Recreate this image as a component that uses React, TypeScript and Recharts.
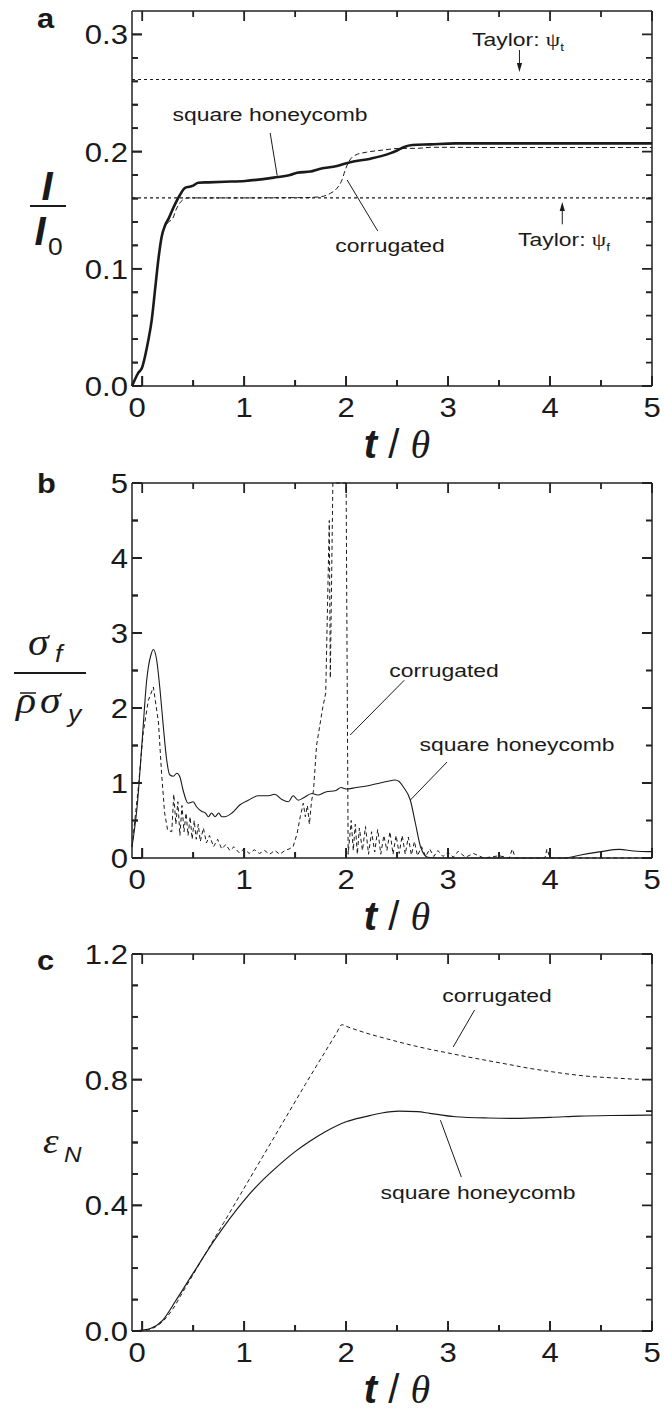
import React from 'react';
import { LineChart, Line, XAxis, YAxis, ReferenceLine } from 'recharts';

// ---------- shared axis data ----------
const T_DOMAIN: [number, number] = [-0.1, 5];
const X_TICKS = [0, 0.5, 1, 1.5, 2, 2.5, 3, 3.5, 4, 4.5, 5];
const X_MAJOR = [0, 1, 2, 3, 4, 5];

// ---------- panel a : I / I0 ----------
const A_Y_DOMAIN: [number, number] = [0, 0.32];
const A_Y_TICKS = [0, 0.02, 0.04, 0.06, 0.08, 0.1, 0.12, 0.14, 0.16, 0.18, 0.2, 0.22, 0.24, 0.26, 0.28, 0.3];
const A_Y_MAJOR = [0, 0.1, 0.2, 0.3];
const A_TAYLOR_T = 0.2615;
const A_TAYLOR_F = 0.1605;
const A_HONEY_T = [-0.1, -0.04, 0, 0.027, 0.06, 0.093, 0.126, 0.158, 0.19, 0.224, 0.26, 0.305, 0.37, 0.42, 0.46, 0.5, 0.55, 0.65, 0.81, 1.01, 1.29, 1.45, 1.52, 1.65, 1.73, 1.91, 2.04, 2.24, 2.43, 2.5, 2.57, 2.65, 2.83, 3.07, 4.0, 5.0];
const A_HONEY_V = [0, 0.011, 0.016, 0.025, 0.039, 0.056, 0.082, 0.1075, 0.127, 0.137, 0.143, 0.152, 0.163, 0.169, 0.17, 0.171, 0.1735, 0.1738, 0.1743, 0.175, 0.1778, 0.18, 0.182, 0.183, 0.185, 0.1877, 0.191, 0.194, 0.1985, 0.201, 0.204, 0.2056, 0.2062, 0.207, 0.207, 0.207];
const A_CORR_T = [-0.1, -0.04, 0, 0.027, 0.06, 0.093, 0.126, 0.158, 0.19, 0.224, 0.26, 0.3, 0.33, 0.36, 0.4, 0.45, 0.6, 1.0, 1.4, 1.6, 1.75, 1.845, 1.91, 1.96, 1.99, 2.03, 2.09, 2.2, 2.37, 2.53, 2.7, 2.83, 3.5, 5.0];
const A_CORR_V = [0, 0.011, 0.016, 0.025, 0.039, 0.056, 0.082, 0.1075, 0.127, 0.136, 0.14, 0.143, 0.15, 0.155, 0.159, 0.1605, 0.1605, 0.1605, 0.1607, 0.1608, 0.1615, 0.1644, 0.1687, 0.176, 0.184, 0.192, 0.197, 0.1995, 0.2014, 0.2028, 0.2028, 0.2037, 0.2035, 0.2035];

// ---------- panel b : sigma_f / (rho sigma_y) ----------
const B_Y_DOMAIN: [number, number] = [0, 5];
const B_Y_TICKS = [0, 0.5, 1, 1.5, 2, 2.5, 3, 3.5, 4, 4.5, 5];
const B_Y_MAJOR = [0, 1, 2, 3, 4, 5];
const B_HONEY_T = [-0.1, -0.05, 0, 0.044, 0.086, 0.11, 0.142, 0.175, 0.21, 0.24, 0.27, 0.305, 0.34, 0.37, 0.4, 0.45, 0.5, 0.535, 0.585, 0.62, 0.65, 0.68, 0.715, 0.75, 0.78, 0.81, 0.88, 0.96, 1.04, 1.14, 1.24, 1.3, 1.37, 1.435, 1.48, 1.53, 1.58, 1.665, 1.72, 1.8, 1.9, 1.95, 2.0, 2.1, 2.2, 2.3, 2.4, 2.48, 2.52, 2.56, 2.63, 2.68, 2.73, 2.8, 2.9, 3.5, 4.14, 4.3, 4.5, 4.68, 4.82, 4.96, 5.0];
const B_HONEY_V = [0.15, 0.68, 1.57, 2.37, 2.71, 2.78, 2.64, 2.24, 1.71, 1.31, 1.11, 1.09, 1.13, 1.08, 0.91, 0.73, 0.75, 0.68, 0.62, 0.6, 0.55, 0.6, 0.55, 0.6, 0.55, 0.55, 0.6, 0.71, 0.77, 0.83, 0.83, 0.85, 0.78, 0.75, 0.83, 0.77, 0.8, 0.86, 0.84, 0.88, 0.9, 0.94, 0.92, 0.94, 0.96, 0.99, 1.02, 1.04, 1.02, 0.95, 0.77, 0.46, 0.15, 0.01, 0, 0, 0, 0.04, 0.085, 0.115, 0.093, 0.085, 0.085];
// the spike leaves the frame at the top (value 5 = frame edge) between t ~1.87 and ~2.0
const B_CORR_T = [-0.1, -0.04, 0.01, 0.06, 0.11, 0.16, 0.19, 0.22, 0.25, 0.29, 0.31, 0.33, 0.35, 0.37, 0.39, 0.41, 0.43, 0.45, 0.47, 0.49, 0.51, 0.53, 0.55, 0.57, 0.6, 0.63, 0.66, 0.7, 0.74, 0.78, 0.82, 0.86, 0.9, 0.95, 1.0, 1.05, 1.1, 1.15, 1.2, 1.25, 1.3, 1.35, 1.4, 1.44, 1.48, 1.52, 1.55, 1.58, 1.6, 1.62, 1.64, 1.66, 1.68, 1.71, 1.74, 1.77, 1.8, 1.835, 1.845, 1.87, 2.0, 2.02, 2.05, 2.07, 2.09, 2.11, 2.13, 2.16, 2.19, 2.22, 2.25, 2.28, 2.31, 2.34, 2.37, 2.4, 2.43, 2.46, 2.49, 2.52, 2.55, 2.58, 2.61, 2.64, 2.67, 2.7, 2.74, 2.78, 2.82, 2.86, 2.9, 2.95, 3.0, 3.05, 3.1, 3.17, 3.25, 3.35, 3.5, 3.6, 3.63, 3.66, 3.95, 3.97, 4.0, 5.0];
const B_CORR_V = [0.15, 0.91, 1.67, 2.1, 2.28, 1.8, 1.13, 0.6, 0.37, 0.35, 0.85, 0.45, 0.75, 0.3, 0.7, 0.35, 0.6, 0.3, 0.55, 0.25, 0.5, 0.25, 0.45, 0.22, 0.4, 0.2, 0.3, 0.15, 0.25, 0.12, 0.18, 0.1, 0.15, 0.07, 0.12, 0.06, 0.11, 0.06, 0.1, 0.05, 0.1, 0.05, 0.1, 0.12, 0.15, 0.33, 0.55, 0.73, 0.55, 0.7, 0.45, 0.75, 0.9, 1.5, 1.75, 2.0, 2.2, 4.5, 2.4, 5.0, 5.0, 0.05, 0.5, 0.1, 0.45, 0.05, 0.4, 0.1, 0.42, 0.05, 0.35, 0.08, 0.38, 0.05, 0.3, 0.1, 0.35, 0.05, 0.3, 0.06, 0.3, 0.05, 0.28, 0.04, 0.22, 0.03, 0.15, 0.02, 0.12, 0.02, 0.1, 0.02, 0.08, 0.01, 0.09, 0.01, 0.06, 0, 0.03, 0, 0.12, 0, 0, 0.12, 0, 0];

// ---------- panel c : eps_N ----------
const C_Y_DOMAIN: [number, number] = [0, 1.2];
const C_Y_TICKS = [0, 0.1, 0.2, 0.3, 0.4, 0.5, 0.6, 0.7, 0.8, 0.9, 1.0, 1.1, 1.2];
const C_Y_MAJOR = [0, 0.4, 0.8, 1.2];
const C_HONEY_T = [-0.1, 0, 0.08, 0.2, 0.33, 0.5, 0.71, 1.0, 1.15, 1.3, 1.5, 1.64, 1.8, 2.0, 2.2, 2.35, 2.52, 2.7, 2.82, 3.07, 3.4, 3.66, 4.0, 4.29, 4.6, 5.0];
const C_HONEY_V = [0, 0.003, 0.008, 0.034, 0.097, 0.184, 0.29, 0.416, 0.47, 0.516, 0.571, 0.603, 0.635, 0.666, 0.683, 0.694, 0.7, 0.698, 0.693, 0.682, 0.678, 0.677, 0.68, 0.684, 0.686, 0.687];
const C_CORR_T = [-0.1, 0, 0.1, 0.2, 0.3, 0.4, 0.6, 0.8, 1.0, 1.2, 1.4, 1.6, 1.8, 1.9, 1.96, 2.0, 2.2, 2.4, 2.6, 2.8, 3.0, 3.2, 3.4, 3.6, 3.8, 4.0, 4.2, 4.4, 4.6, 4.8, 5.0];
const C_CORR_V = [0, 0.001, 0.008, 0.03, 0.07, 0.125, 0.235, 0.345, 0.455, 0.565, 0.675, 0.785, 0.892, 0.945, 0.975, 0.97, 0.948, 0.93, 0.913, 0.898, 0.885, 0.872, 0.86, 0.848, 0.836, 0.826, 0.817, 0.81, 0.806, 0.802, 0.8];

// ---------- styling ----------
const SX = 1.24;
const SANS = "'Liberation Sans', Arial, Helvetica, sans-serif";
const SERIF = "'Liberation Serif', 'Times New Roman', serif";
const INK = '#1a1a1a';
const FRAME = '#222222';
const X_AXIS_H = 30;
const Y_AXIS_W = 60;

const zip = (t: number[], v: number[]) => t.map((tt, i) => ({ t: tt, v: v[i] }));
const near = (list: number[]) => (v: number) => list.some((m) => Math.abs(m - v) < 1e-6);

function SText(props: any) {
  const { x, y, size, anchor = 'start', sx = SX, weight = 'normal', italic = false, family = SANS, children } = props;
  return (
    <text
      transform={`translate(${x},${y}) scale(${sx},1)`}
      fontSize={size}
      textAnchor={anchor}
      fontFamily={family}
      fontWeight={weight}
      fontStyle={italic ? 'italic' : 'normal'}
      fill={INK}
    >
      {children}
    </text>
  );
}

// axis tick (element form): inward tick mark + label for majors
function AxisTick(props: any) {
  const { x, y, payload, side, majors, fmt } = props;
  const v = payload.value;
  const major = near(majors)(v);
  const len = major ? 10 : 6;
  if (side === 'bottom') {
    return (
      <g>
        <path d={`M${x},${y}L${x},${y - len}`} stroke={FRAME} strokeWidth={1.8} fill="none" />
        {major ? (
          <SText x={x + (v === 0 ? -5 : 0)} y={y + 31} size={27} anchor="middle" sx={1.15}>
            {fmt(v)}
          </SText>
        ) : null}
      </g>
    );
  }
  return (
    <g>
      <path d={`M${x},${y}L${x + len},${y}`} stroke={FRAME} strokeWidth={1.8} fill="none" />
      {major ? (
        <SText x={x - 4} y={y + 10} size={27} anchor="end" sx={1.15}>
          {fmt(v)}
        </SText>
      ) : null}
    </g>
  );
}

// vertical reference line drawn only as inward stubs at both ends (bottom + top ticks)
const vStub = (len: number) => (p: any) => {
  const x = Number(p.x1);
  const yTop = Math.min(Number(p.y1), Number(p.y2));
  const yBot = Math.max(Number(p.y1), Number(p.y2));
  return <path d={`M${x},${yBot}L${x},${yBot - len}M${x},${yTop}L${x},${yTop + len}`} stroke={FRAME} strokeWidth={1.8} fill="none" />;
};
// horizontal reference line drawn only as inward stubs at both ends (left + right ticks)
const hStub = (len: number) => (p: any) => {
  const y = Number(p.y1);
  const xL = Math.min(Number(p.x1), Number(p.x2));
  const xR = Math.max(Number(p.x1), Number(p.x2));
  return <path d={`M${xL},${y}L${xL + len},${y}M${xR},${y}L${xR - len},${y}`} stroke={FRAME} strokeWidth={1.8} fill="none" />;
};

const arrowShape = (p: any) => {
  const { x1, y1, x2, y2 } = p;
  const dir = y2 > y1 ? 1 : -1;
  return (
    <g>
      <line x1={x1} y1={y1} x2={x2} y2={y2 - dir * 6} stroke={INK} strokeWidth={1} />
      <polygon points={`${x2},${y2} ${x2 - 2.6},${y2 - dir * 9} ${x2 + 2.6},${y2 - dir * 9}`} fill={INK} />
    </g>
  );
};

function Panel(props: any) {
  const { height, top, bottom, yDomain, yTicks, yMajor, yFmt, children } = props;
  const axisLine = { stroke: FRAME, strokeWidth: 1.5 };
  const xMaj = near(X_MAJOR);
  const yMaj = near(yMajor);
  return (
    <LineChart
      width={664}
      height={height}
      margin={{ top, right: 12, bottom: bottom - X_AXIS_H, left: 132 - Y_AXIS_W }}
    >
      <XAxis
        xAxisId="x"
        dataKey="t"
        type="number"
        domain={T_DOMAIN}
        ticks={X_TICKS}
        interval={0}
        height={X_AXIS_H}
        tickSize={0}
        tickMargin={0}
        tickLine={false}
        axisLine={axisLine}
        tick={<AxisTick side="bottom" majors={X_MAJOR} fmt={(v: number) => String(v)} />}
      />
      <YAxis
        yAxisId="y"
        type="number"
        domain={yDomain}
        ticks={yTicks}
        interval={0}
        width={Y_AXIS_W}
        tickSize={0}
        tickMargin={0}
        tickLine={false}
        axisLine={axisLine}
        tick={<AxisTick side="left" majors={yMajor} fmt={yFmt} />}
      />
      {/* right and top frame */}
      <ReferenceLine xAxisId="x" yAxisId="y" x={T_DOMAIN[1]} stroke={FRAME} strokeWidth={1.5} />
      <ReferenceLine xAxisId="x" yAxisId="y" y={yDomain[1]} stroke={FRAME} strokeWidth={1.5} />
      {/* mirrored inward ticks on all sides */}
      {X_TICKS.map((v) => (
        <ReferenceLine key={`xt${v}`} xAxisId="x" yAxisId="y" x={v} stroke={FRAME} ifOverflow="visible" shape={vStub(xMaj(v) ? 10 : 6)} />
      ))}
      {yTicks.map((v: number) => (
        <ReferenceLine key={`yt${v}`} xAxisId="x" yAxisId="y" y={v} stroke={FRAME} ifOverflow="visible" shape={hStub(yMaj(v) ? 10 : 6)} />
      ))}
      {children}
    </LineChart>
  );
}

const seg = (t1: number, v1: number, t2: number, v2: number, key: string, shape?: any) => (
  <ReferenceLine
    key={key}
    xAxisId="x"
    yAxisId="y"
    segment={[{ x: t1, y: v1 }, { x: t2, y: v2 }]}
    stroke={INK}
    strokeWidth={1}
    ifOverflow="visible"
    shape={shape}
  />
);

export default function App() {
  return (
    <div style={{ position: 'absolute', left: 0, top: 0, width: 664, height: 1411, background: '#fff', overflow: 'hidden' }}>
      <div style={{ position: 'absolute', left: 0, top: 0 }}>
        <Panel height={465} top={11} bottom={79} yDomain={A_Y_DOMAIN} yTicks={A_Y_TICKS} yMajor={A_Y_MAJOR} yFmt={(v: number) => v.toFixed(1)}>
          <ReferenceLine xAxisId="x" yAxisId="y" y={A_TAYLOR_T} stroke={INK} strokeWidth={1.1} strokeDasharray="3 3" />
          <ReferenceLine xAxisId="x" yAxisId="y" y={A_TAYLOR_F} stroke={INK} strokeWidth={1.1} strokeDasharray="3 3" />
          <Line xAxisId="x" yAxisId="y" data={zip(A_CORR_T, A_CORR_V)} dataKey="v" type="monotone" stroke={INK} strokeWidth={1} strokeDasharray="5 3" dot={false} isAnimationActive={false} />
          <Line xAxisId="x" yAxisId="y" data={zip(A_HONEY_T, A_HONEY_V)} dataKey="v" type="monotone" stroke={INK} strokeWidth={2.6} dot={false} isAnimationActive={false} />
          {seg(1.255, 0.2159, 1.324, 0.1795, 'a1')}
          {seg(2.01, 0.1758, 2.31, 0.1323, 'a2')}
          {seg(3.7, 0.2867, 3.7, 0.268, 'a3', arrowShape)}
          {seg(4.12, 0.138, 4.12, 0.157, 'a4', arrowShape)}
        </Panel>
      </div>
      <div style={{ position: 'absolute', left: 0, top: 465 }}>
        <Panel height={465} top={18} bottom={72} yDomain={B_Y_DOMAIN} yTicks={B_Y_TICKS} yMajor={B_Y_MAJOR} yFmt={(v: number) => String(v)}>
          <Line xAxisId="x" yAxisId="y" data={zip(B_CORR_T, B_CORR_V)} dataKey="v" type="linear" stroke={INK} strokeWidth={1} strokeDasharray="4 3" dot={false} isAnimationActive={false} />
          <Line xAxisId="x" yAxisId="y" data={zip(B_HONEY_T, B_HONEY_V)} dataKey="v" type="monotone" stroke={INK} strokeWidth={1.1} dot={false} isAnimationActive={false} />
          {seg(2.57, 2.37, 2.04, 1.64, 'b1')}
          {seg(2.99, 1.28, 2.63, 0.773, 'b2')}
        </Panel>
      </div>
      <div style={{ position: 'absolute', left: 0, top: 930 }}>
        <Panel height={481} top={24} bottom={80} yDomain={C_Y_DOMAIN} yTicks={C_Y_TICKS} yMajor={C_Y_MAJOR} yFmt={(v: number) => v.toFixed(1)}>
          <Line xAxisId="x" yAxisId="y" data={zip(C_CORR_T, C_CORR_V)} dataKey="v" type="monotone" stroke={INK} strokeWidth={1} strokeDasharray="4 3" dot={false} isAnimationActive={false} />
          <Line xAxisId="x" yAxisId="y" data={zip(C_HONEY_T, C_HONEY_V)} dataKey="v" type="monotone" stroke={INK} strokeWidth={1.2} dot={false} isAnimationActive={false} />
          {seg(3.26, 1.0217, 3.05, 0.904, 'c1')}
          {seg(2.925, 0.671, 3.13, 0.49, 'c2')}
        </Panel>
      </div>

      <svg width={664} height={1411} style={{ position: 'absolute', left: 0, top: 0, pointerEvents: 'none' }}>
        <SText x={37} y={28} size={28} weight="bold" sx={1.1}>a</SText>
        <SText x={37} y={493} size={28} weight="bold" sx={1.1}>b</SText>
        <SText x={37} y={970} size={28} weight="bold" sx={1.1}>c</SText>

        {[458, 930, 1403].map((yy) => (
          <text key={yy} x={397} y={yy} fontSize={40} textAnchor="middle" fill={INK}>
            <tspan fontFamily={SANS} fontWeight="bold" fontStyle="italic">t</tspan>
            <tspan fontFamily={SANS}> / </tspan>
            <tspan fontFamily={SERIF} fontStyle="italic">θ</tspan>
          </text>
        ))}

        <SText x={47} y={200} size={40} weight="bold" italic anchor="middle" sx={1}>I</SText>
        <line x1={30} y1={206} x2={66} y2={206} stroke={INK} strokeWidth={2} />
        <SText x={40} y={245} size={40} weight="bold" italic anchor="middle" sx={1}>I</SText>
        <SText x={48} y={255} size={24} sx={1.1}>0</SText>

        <SText x={28} y={655} size={38} italic family={SERIF} sx={1.1}>σ</SText>
        <SText x={55} y={662} size={24} italic sx={1.1}>f</SText>
        <line x1={14} y1={673} x2={86} y2={673} stroke={INK} strokeWidth={2} />
        <line x1={20} y1={693} x2={36} y2={693} stroke={INK} strokeWidth={1.5} />
        <SText x={16} y={713} size={38} italic family={SERIF} sx={1.1}>ρ</SText>
        <SText x={40} y={713} size={38} italic family={SERIF} sx={1.1}>σ</SText>
        <SText x={68} y={722} size={24} italic sx={1.1}>y</SText>

        <SText x={43} y={1153} size={36} italic family={SERIF} sx={1.1}>ε</SText>
        <SText x={64} y={1162} size={22} italic sx={1.1}>N</SText>

        <SText x={270} y={121} size={18.5} anchor="middle">square honeycomb</SText>
        <SText x={390} y={252} size={18.5} anchor="middle">corrugated</SText>
        <text transform={`translate(518,46) scale(${SX},1)`} fontSize={18.5} textAnchor="middle" fill={INK} fontFamily={SANS}>
          Taylor: <tspan fontFamily={SERIF}>ψ</tspan><tspan fontSize={11} dy={5}>t</tspan>
        </text>
        <text transform={`translate(564,246) scale(${SX},1)`} fontSize={18.5} textAnchor="middle" fill={INK} fontFamily={SANS}>
          Taylor: <tspan fontFamily={SERIF}>ψ</tspan><tspan fontSize={11} dy={5}>f</tspan>
        </text>

        <SText x={444} y={677} size={18.5} anchor="middle">corrugated</SText>
        <SText x={517} y={751} size={18.5} anchor="middle">square honeycomb</SText>

        <SText x={497} y={1002} size={18.5} anchor="middle">corrugated</SText>
        <SText x={478} y={1199} size={18.5} anchor="middle">square honeycomb</SText>
      </svg>
    </div>
  );
}
